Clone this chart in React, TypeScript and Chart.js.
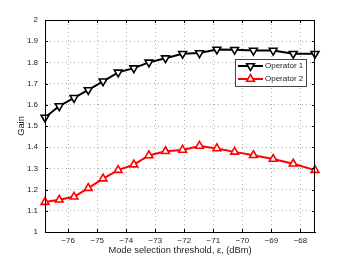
import { useEffect, useRef } from 'react';
import { Chart, registerables } from 'chart.js';
Chart.register(...registerables);

const xValues = [-76.8, -76.31, -75.8, -75.31, -74.8, -74.28, -73.74, -73.22, -72.65, -72.06, -71.48, -70.88, -70.27, -69.62, -68.94, -68.25, -67.5];
const operator1 = [1.54, 1.594, 1.633, 1.67, 1.711, 1.753, 1.773, 1.8, 1.82, 1.841, 1.844, 1.861, 1.86, 1.856, 1.856, 1.841, 1.841];
const operator2 = [1.141, 1.152, 1.166, 1.207, 1.252, 1.292, 1.318, 1.361, 1.381, 1.387, 1.406, 1.394, 1.378, 1.362, 1.344, 1.322, 1.292];
const xTicks = [-76, -75, -74, -73, -72, -71, -70, -69, -68];
const seriesNames = ['Operator 1', 'Operator 2'];
const xTitle = 'Mode selection threshold, \u03b5, (dBm)';
const yTitle = 'Gain';

const FONT = '"Liberation Sans", Arial, Helvetica, sans-serif';

function triangle(ctx: CanvasRenderingContext2D, x: number, y: number, r: number, rotDeg: number) {
  let rad = (rotDeg * Math.PI) / 180;
  ctx.beginPath();
  ctx.moveTo(x + Math.sin(rad) * r, y - Math.cos(rad) * r);
  rad += (2 * Math.PI) / 3;
  ctx.lineTo(x + Math.sin(rad) * r, y - Math.cos(rad) * r);
  rad += (2 * Math.PI) / 3;
  ctx.lineTo(x + Math.sin(rad) * r, y - Math.cos(rad) * r);
  ctx.closePath();
}

const boxPlugin = {
  id: 'boxPlugin',
  afterDatasetsDraw(chart: any) {
    const { ctx, chartArea: a, scales } = chart;
    ctx.save();
    ctx.strokeStyle = '#000';
    ctx.lineWidth = 1;
    ctx.setLineDash([]);
    ctx.strokeRect(a.left + 0.5, a.top + 0.5, a.right - a.left - 1, a.bottom - a.top);
    const tl = 3;
    ctx.beginPath();
    for (const t of scales.x.ticks) {
      const px = Math.round(scales.x.getPixelForValue(t.value)) + 0.5;
      ctx.moveTo(px, a.bottom);
      ctx.lineTo(px, a.bottom - tl);
      ctx.moveTo(px, a.top);
      ctx.lineTo(px, a.top + tl);
    }
    for (const t of scales.y.ticks) {
      const py = Math.round(scales.y.getPixelForValue(t.value)) + 0.5;
      ctx.moveTo(a.left, py);
      ctx.lineTo(a.left + tl, py);
      ctx.moveTo(a.right, py);
      ctx.lineTo(a.right - tl, py);
    }
    ctx.stroke();
    ctx.restore();
  },
  afterDraw(chart: any) {
    const { ctx } = chart;
    const bx = 235, by = 59, bw = 71, bh = 27;
    ctx.save();
    ctx.fillStyle = '#fff';
    ctx.fillRect(bx, by, bw, bh);
    ctx.strokeStyle = '#444';
    ctx.lineWidth = 1;
    ctx.strokeRect(bx + 0.5, by + 0.5, bw, bh);
    const rows = [
      { y: 66, color: '#000', rot: 180, name: seriesNames[0] },
      { y: 79, color: '#ff0000', rot: 0, name: seriesNames[1] },
    ];
    for (const r of rows) {
      ctx.strokeStyle = r.color;
      ctx.lineWidth = 2;
      ctx.beginPath();
      ctx.moveTo(238, r.y);
      ctx.lineTo(263, r.y);
      ctx.stroke();
      triangle(ctx, 250.5, r.y, 4.5, r.rot);
      ctx.fillStyle = '#fff';
      ctx.fill();
      ctx.lineWidth = 1.6;
      ctx.stroke();
      ctx.fillStyle = '#222';
      ctx.font = `8px ${FONT}`;
      ctx.textBaseline = 'middle';
      ctx.textAlign = 'left';
      ctx.fillText(r.name, 265, r.y);
    }
    ctx.restore();
  },
};

export default function App() {
  const ref = useRef<HTMLCanvasElement>(null);
  useEffect(() => {
    document.body.style.margin = '0';
    const chart = new Chart(ref.current!, {
      type: 'line',
      data: {
        datasets: [
          {
            label: seriesNames[0],
            data: xValues.map((x, i) => ({ x, y: operator1[i] })),
            borderColor: '#000',
            backgroundColor: '#fff',
            borderWidth: 2,
            pointStyle: 'triangle',
            rotation: 180,
            pointRadius: 4.5,
            pointBorderWidth: 1.6,
            pointBackgroundColor: '#fff',
            pointBorderColor: '#000',
            clip: false as any,
          },
          {
            label: seriesNames[1],
            data: xValues.map((x, i) => ({ x, y: operator2[i] })),
            borderColor: '#ff0000',
            backgroundColor: '#fff',
            borderWidth: 2,
            pointStyle: 'triangle',
            pointRadius: 4.5,
            pointBorderWidth: 1.6,
            pointBackgroundColor: '#fff',
            pointBorderColor: '#ff0000',
            clip: false as any,
          },
        ],
      },
      options: {
        responsive: false,
        animation: false,
        layout: { padding: { top: 20, right: 34, left: 0, bottom: 0 } },
        plugins: { legend: { display: false }, tooltip: { enabled: false } },
        scales: {
          x: {
            type: 'linear',
            min: -76.8,
            max: -67.5,
            afterBuildTicks: (s: any) => {
              s.ticks = xTicks.map((v) => ({ value: v }));
            },
            afterFit: (s: any) => {
              s.height = 30;
            },
            grid: { color: '#b0b0b0', drawTicks: false, lineWidth: 1 },
            border: { display: true, color: '#000', width: 1, dash: [1, 3] },
            ticks: {
              padding: 4,
              color: '#222',
              font: { family: FONT, size: 8 },
              maxRotation: 0,
              callback: (v: any) => (v < 0 ? '\u2212' + Math.abs(v) : String(v)),
            },
            title: {
              display: true,
              text: xTitle,
              color: '#222',
              font: { family: FONT, size: 9.3 },
              padding: { top: 0, bottom: 6.4 },
            },
          },
          y: {
            type: 'linear',
            min: 1,
            max: 2,
            afterFit: (s: any) => {
              s.width = 45;
            },
            grid: { color: '#b0b0b0', drawTicks: false, lineWidth: 1 },
            border: { display: true, color: '#000', width: 1, dash: [1, 3] },
            ticks: {
              stepSize: 0.1,
              padding: 7,
              color: '#222',
              font: { family: FONT, size: 8 },
              callback: (v: any) => String(Number(Number(v).toFixed(1))),
            },
            title: {
              display: true,
              text: yTitle,
              color: '#222',
              font: { family: FONT, size: 9.3 },
              padding: { top: 16, bottom: 0 },
            },
          },
        },
      },
      plugins: [boxPlugin],
    });
    return () => chart.destroy();
  }, []);
  return (
    <div style={{ width: 349, height: 262, position: 'relative' }}>
      <canvas ref={ref} width={349} height={262} style={{ display: 'block' }} />
    </div>
  );
}
